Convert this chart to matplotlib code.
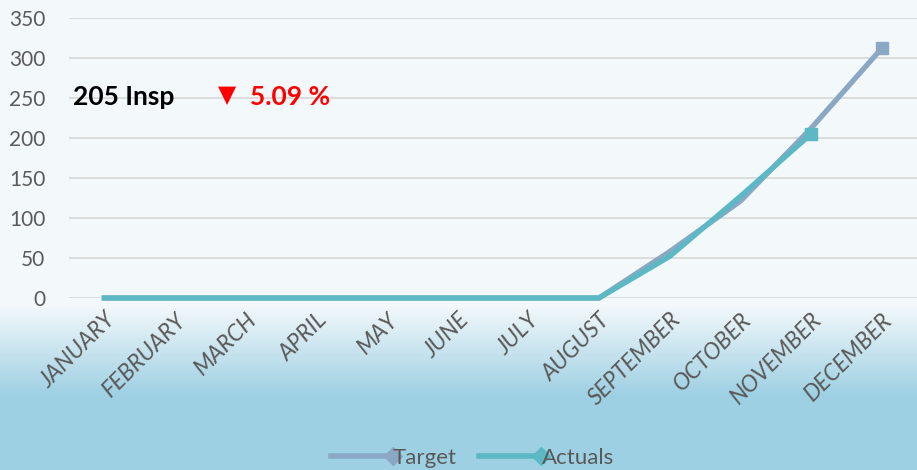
import numpy as np
import matplotlib.pyplot as plt
from matplotlib.colors import LinearSegmentedColormap
from matplotlib.lines import Line2D
from matplotlib.legend_handler import HandlerLine2D

# --- data
months = ["JANUARY", "FEBRUARY", "MARCH", "APRIL", "MAY", "JUNE", "JULY",
          "AUGUST", "SEPTEMBER", "OCTOBER", "NOVEMBER", "DECEMBER"]
target = [0, 0, 0, 0, 0, 0, 0, 0, 58, 121, 212, 312]
actuals = [0, 0, 0, 0, 0, 0, 0, 0, 52, 127, 205]
total_label = "205 Insp"
pct_label = "5.09 %"

# --- style
plt.rcParams["font.family"] = ["Lato", "DejaVu Sans"]
text_col = "#595959"
target_col = "#8aa8c3"
actual_col = "#5bb8c4"


class EndMarkerHandler(HandlerLine2D):
    # legend line with the marker at its right end (Excel style)
    def create_artists(self, *args, **kwargs):
        arts = super().create_artists(*args, **kwargs)
        for a in arts:
            a.set_markevery([len(a.get_xdata()) - 1])
        return arts


fig = plt.figure(figsize=(9.17, 4.70), dpi=100)
W, H = 917, 470

# background gradient (light at top, blue at bottom)
bg = fig.add_axes([0, 0, 1, 1], zorder=0)
bg.axis("off")
rows = np.arange(H)
grad = np.clip((rows - 305) / 90, 0, 1)
cmap = LinearSegmentedColormap.from_list("bg", ["#f3f8fb", "#9ed0e3"])
bg.imshow(grad[:, None], aspect="auto", cmap=cmap, extent=[0, 1, 0, 1],
          vmin=0, vmax=1)

ax = fig.add_axes([69 / W, (H - 298) / H, (917 - 69) / W, 280 / H], zorder=1)
ax.patch.set_alpha(0)

x = np.arange(len(months))
ax.plot(x, target, color=target_col, lw=3.8, solid_joinstyle="miter",
        marker="s", markevery=[len(target) - 1], ms=9, clip_on=False,
        zorder=3)
ax.plot(x[:len(actuals)], actuals, color=actual_col, lw=3.8,
        solid_joinstyle="miter", marker="s", markevery=[len(actuals) - 1],
        ms=9, clip_on=False, zorder=4)

ax.set_xlim(-0.5, 11.5)
ax.set_ylim(0, 350)
ax.set_yticks(range(0, 351, 50))
ax.grid(axis="y", color="#d9d9d9", lw=1.3)
ax.set_axisbelow(True)
for s in ax.spines.values():
    s.set_visible(False)
ax.tick_params(axis="both", length=0, colors=text_col)
ax.tick_params(axis="y", labelsize=15, pad=17)
ax.set_xticks(x)
ax.set_xticklabels(months, rotation=45, ha="right", rotation_mode="anchor",
                   fontsize=16.5, style="italic", color=text_col)
ax.tick_params(axis="x", pad=8)

# KPI annotation
fig.text(73 / W, 1 - 97 / H, total_label, fontsize=19, fontweight="bold",
         color="black", va="center", ha="left")
fig.text(227 / W, 1 - 95 / H, "\u25BC", fontsize=17, color="#ff0000",
         va="center", ha="center", family="DejaVu Sans")
fig.text(250 / W, 1 - 97 / H, pct_label, fontsize=19, fontweight="bold",
         color="#ff0000", va="center", ha="left")

# legend
lh = [Line2D([0, 1], [0, 0], color=target_col, lw=4, marker="D", ms=9),
      Line2D([0, 1], [0, 0], color=actual_col, lw=4, marker="D", ms=9)]
fig.legend(lh, ["Target", "Actuals"], loc="center", ncol=2,
           bbox_to_anchor=(0.515, 1 - 458 / H), frameon=False, fontsize=16,
           labelcolor=text_col, handlelength=2.8, handletextpad=0.0,
           columnspacing=1.0, numpoints=1,
           handler_map={Line2D: EndMarkerHandler()})

fig.savefig("out.png", dpi=100)
